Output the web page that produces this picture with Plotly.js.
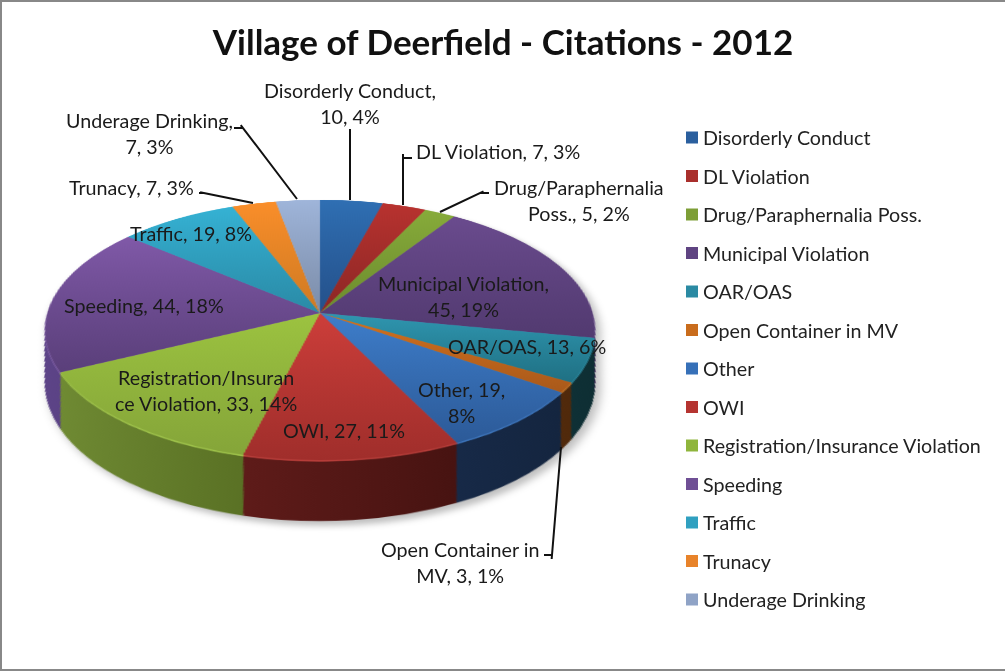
<!DOCTYPE html>
<html><head><meta charset="utf-8">
<script src="https://cdn.plot.ly/plotly-3.0.1.min.js"></script>
<style>
html,body{margin:0;padding:0;background:#fff;width:1005px;height:671px;overflow:hidden}
#chart{position:absolute;left:0;top:0;width:1005px;height:671px}
#frame{position:absolute;left:0;top:0;width:1005px;height:671px;box-sizing:border-box;border-left:2px solid #888;border-top:2px solid #888;border-bottom:2px solid #888;pointer-events:none}
</style></head><body>
<div id="chart"></div><div id="frame"></div>
<script>
// ---- data ----
const categories = ["Disorderly Conduct","DL Violation","Drug/Paraphernalia Poss.","Municipal Violation","OAR/OAS","Open Container in MV","Other","OWI","Registration/Insurance Violation","Speeding","Traffic","Trunacy","Underage Drinking"];
const citations = [10,7,5,45,13,3,19,27,33,44,19,7,7];
const sliceLabels = ["Disorderly Conduct,<br>10, 4%","DL Violation, 7, 3%","Drug/Paraphernalia<br>Poss., 5, 2%","Municipal Violation,<br>45, 19%","OAR/OAS, 13, 6%","Open Container in<br>MV, 3, 1%","Other, 19,<br>8%","OWI, 27, 11%","Registration/Insuran<br>ce Violation, 33, 14%","Speeding, 44, 18%","Traffic, 19, 8%","Trunacy, 7, 3%","Underage Drinking,<br>7, 3%"];

// ---- colours ----
const swatchColors = ["#2a5f9e","#a92f2c","#7d9e36","#5f4482","#2a8aa3","#c96c1c","#3670b8","#b53431","#8fb53c","#6f4f95","#30a0c0","#e8832a","#8fa3c6"];
const topLight = ["#2f6fb3","#b8322f","#87ab3a","#6a4b8e","#2f96b0","#d4721e","#3e7ecb","#cd3e3a","#9cc340","#8059a8","#35b2d4","#fa8e2a","#9fb5da"];
const topDark  = ["#24508a","#8c2725","#6c8c2e","#523a70","#1f7083","#a9591a","#2c5a98","#a02e2b","#85a539","#5a3f7a","#2a8aa6","#cf7a22","#7b8ca8"];
const wallLeft = ["#1a3a60","#5a1a18","#55702a","#4a3468","#123e46","#5f340f","#1a2e50","#5e1b19","#6f8a33","#5d4488","#1c5f72","#8a4c14","#5a6a80"];
const wallRight= ["#142c4a","#481412","#465c22","#3a2852","#0e2e33","#50290b","#14253f","#471311","#52681f","#4a366c","#164c5c","#703d10","#4a586c"];
const rimColors= ["#3068a8","#b8403c","#98bd48","#7a5ca0","#2f90a8","#c87a2c","#3f78c0","#b83e3a","#a0c44c","#8a68b0","#40a8c8","#e89040","#a4b6d4"];

// ---- geometry of the tilted disc ----
const W = 1005, H = 671, cx = 320, cy0 = 210, R = 200, layers = 53;
const tilt = 62*Math.PI/180, persp = 1846, zoom = 1.363;
const c = Math.cos(tilt), s = Math.sin(tilt);

function pie(i){
  const k = layers - i;                       // screen px below the top face
  const Y = k*persp/(c*persp + k*s);          // plane offset that lands k px lower
  const f = persp/(persp - Y*s);              // perspective growth there
  const cy = cy0 + Y/zoom, r = R/f;
  const isTop = i === layers;
  const rim = k > 0 && k <= 1;
  const cols = isTop ? swatchColors : (rim ? rimColors : wallRight);
  return {
    type:'pie', labels:categories, values:citations, sort:false, direction:'clockwise', rotation:0,
    textinfo:'none', hoverinfo:'skip', showlegend:isTop,
    marker:{colors:cols, line:{width:isTop?0:0.6, color:cols}},
    domain:{x:[(cx-r)/W,(cx+r)/W], y:[1-(cy+r)/H,1-(cy-r)/H]}
  };
}
const traces = [];
for(let i=0;i<=layers;i++) traces.push(pie(i));

// ---- label placement (px) ----
const labelX = [350,498,579,463,527,460,461,344,206,144,191,131,149];
const labelY = [103,151,200,296,347,562,402,430,390,305,234,188,134];
const leaders = [
 [[350,128],[350,200]],
 [[413,158],[403,158],[403,205]],
 [[490,193],[480,193],[440,212]],
 [[543,555],[552,555],[561,447]],
 [[198,193],[204,193],[253,203]],
 [[233,128],[243,128],[297,199]]
];
const tailGap = 5;   // the annotation's empty text box swallows this much of each elbow segment
const px = x => x/W, py = y => 1-y/H;
const labelFont = {family:'Lato, Carlito, sans-serif', size:19.7, color:'#1a1a1a'};
const annotations = categories.map((n,i)=>({
  xref:'paper',yref:'paper',x:px(labelX[i]),y:py(labelY[i]),xanchor:'center',yanchor:'middle',
  text:sliceLabels[i],showarrow:false,font:labelFont,align:'center'
}));
leaders.forEach(path=>{
  for(let k=1;k<path.length;k++){
    const a=path[k-1],b=path[k];
    const dx=a[0]-b[0],dy=a[1]-b[1],len=Math.hypot(dx,dy),e=k>1?(len+tailGap)/len:1;
    annotations.push({xref:'paper',yref:'paper',x:px(b[0]),y:py(b[1]),ax:dx*e,ay:dy*e,
      text:' ',showarrow:true,arrowhead:0,arrowwidth:2,arrowcolor:'#111',standoff:0,startstandoff:0,
      width:1,height:1,borderpad:0,font:{size:1}});
  }
});

const layout = {
  width:W,height:H,margin:{l:0,r:0,t:0,b:0},paper_bgcolor:'rgba(0,0,0,0)',plot_bgcolor:'rgba(0,0,0,0)',
  title:{text:'<b>Village of Deerfield - Citations - 2012</b>',font:{family:'Lato, Carlito, sans-serif',size:35,color:'#111'},x:503/W,xanchor:'center',y:1-43/H,yanchor:'middle'},
  showlegend:true,
  legend:{x:672/W,xanchor:'left',y:py(125),yanchor:'top',bgcolor:'rgba(0,0,0,0)',font:{family:'Lato, Carlito, sans-serif',size:19.7,color:'#222'}},
  annotations:annotations
};

const NS='http://www.w3.org/2000/svg';
function grad(defs,id,stops,horizontal){
  const g=document.createElementNS(NS,'linearGradient');
  g.setAttribute('id',id);
  g.setAttribute('x1','0');g.setAttribute('y1','0');
  g.setAttribute('x2',horizontal?'1':'0');g.setAttribute('y2',horizontal?'0':'1');
  stops.forEach((col,i)=>{const st=document.createElementNS(NS,'stop');st.setAttribute('offset',i/(stops.length-1));st.setAttribute('stop-color',col);g.appendChild(st);});
  defs.appendChild(g);
}
Plotly.newPlot('chart',traces,layout,{staticPlot:true,displayModeBar:false}).then(gd=>{
  const svg=gd.querySelector('svg.main-svg');
  const defs=document.createElementNS(NS,'defs');svg.insertBefore(defs,svg.firstChild);
  categories.forEach((n,i)=>{
    grad(defs,'top'+i,[topLight[i],topDark[i]],false);
    grad(defs,'wall'+i,[wallLeft[i],wallRight[i]],true);
  });
  const groups=[...svg.querySelectorAll('.pielayer .trace')];
  groups.forEach((g,t)=>{
    const k=layers-t;
    g.querySelectorAll('.slice').forEach((sl,i)=>{
      const p=sl.querySelector('path.surface');
      if(k===0){p.style.fill='url(#top'+i+')';p.style.stroke='none';}
      else if(k>1){p.style.fill='url(#wall'+i+')';p.style.stroke='none';}
    });
  });
  // tilt only the disc: title, labels and legend live in the upper svg layer
  svg.style.transformOrigin=cx+'px '+cy0+'px';
  svg.style.transform='translateY(103px) perspective('+persp+'px) rotateX(62deg) scale('+zoom+')';
  svg.style.filter='drop-shadow(3px 5px 3px rgba(0,0,0,.25))';
  // legend rows
  const leg=gd.querySelector('.legend');
  const ly=+leg.getAttribute('transform').match(/,\s*([-\d.]+)/)[1];
  const sb=leg.querySelector('.scrollbox');if(sb)sb.removeAttribute('clip-path');
  leg.removeAttribute('clip-path');
  leg.querySelectorAll('.traces').forEach((t,i)=>{
    t.setAttribute('transform','translate(0,'+(137.5+38.5*i-ly)+')');
    const tx=t.querySelector('.legendtext');
    if(tx)tx.setAttribute('transform','translate(-9,0)');
  });
});
</script>
</body></html>
